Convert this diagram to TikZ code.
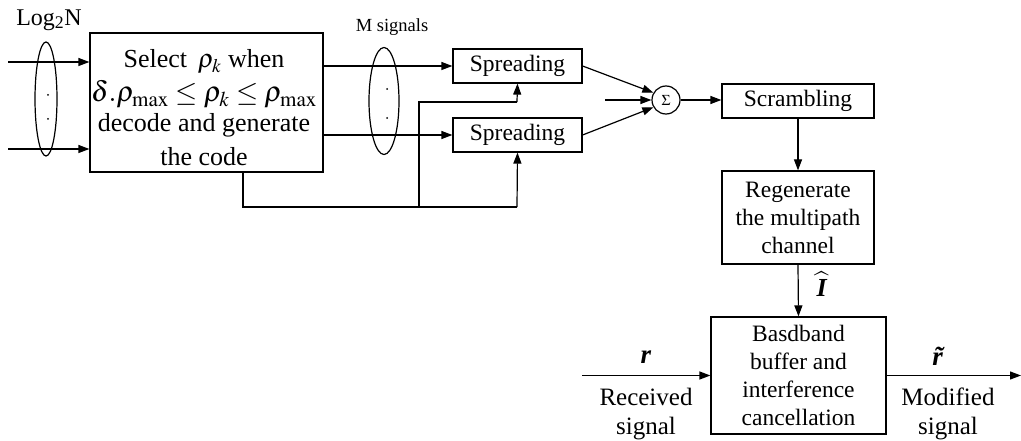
\documentclass[tikz,border=0pt]{standalone}
\usepackage{mathptmx}
\usepackage{amsmath}
\usepackage{fontspec}
\setmainfont{Liberation Serif}
\usetikzlibrary{arrows.meta,shapes.geometric}
\newcommand{\bi}[1]{\textbf{\textit{#1}}}
\begin{document}
\begin{tikzpicture}[x=1pt,y=-1pt,
  lw/.style={line width=1.2pt},
  blk/.style={draw,lw,inner sep=0pt,align=center,font=\fontsize{23.5}{28}\selectfont},
  arr/.style={lw,-{Triangle[length=11pt,width=8pt]}},
  ln/.style={lw},
  lbl/.style={inner sep=0pt,align=center,font=\fontsize{25}{29}\selectfont},
  oval/.style={draw,lw,ellipse,inner sep=0pt},
  dotn/.style={circle,fill,inner sep=0pt,minimum size=2pt}]
\useasboundingbox (0,0) rectangle (1021,441);
% blocks
\node[blk,minimum width=233pt,minimum height=139pt] (main) at (206.5,102.5) {};
\node[lbl,font=\fontsize{26}{30}\selectfont] (mt) at (204,108)
  {Select \,$\rho_k$ when\\[4pt]{\fontsize{28.5}{30}\selectfont$\delta.\rho_{\max}\le\rho_k\le\rho_{\max}$}\\[0pt]decode and generate\\[4pt]the code};
\node[blk,minimum width=129pt,minimum height=34pt] (spr1) at (517.5,66) {Spreading};
\node[blk,minimum width=129pt,minimum height=34pt] (spr2) at (517.5,135) {Spreading};
\node[draw,lw,circle,minimum size=28pt,inner sep=0pt,font=\fontsize{15}{15}\selectfont] (sum) at (666,100) {$\Sigma$};
\node[blk,minimum width=152pt,minimum height=34pt] (scr) at (798,101) {Scrambling};
\node[blk,minimum width=152pt,minimum height=93pt] (reg) at (798,217.5) {Regenerate\\the multipath\\channel};
\node[blk,minimum width=175pt,minimum height=117pt] (bb) at (798.5,375.5) {Basdband\\buffer and\\interference\\cancellation};
% left inputs
\coordinate (in1) at (8,62);
\coordinate (in2) at (8,149);
\draw[arr] (in1) -- (in1 -| main.west);
\draw[arr] (in2) -- (in2 -| main.west);
\node[oval,minimum width=22pt,minimum height=114pt] (ov1) at (46,99) {};
\node[dotn] (d1) at (48,95) {};
\node[dotn] (d2) at (48,119) {};
\node[lbl,font=\fontsize{24}{24}\selectfont] (log) at (49,20) {Log\textsubscript{2}N};
% outputs of main
\coordinate (o1) at (main.east |- spr1);
\coordinate (o2) at (main.east |- spr2);
\draw[arr] (o1) -- (spr1.west);
\draw[arr] (o2) -- (spr2.west);
\node[oval,minimum width=30pt,minimum height=107pt] (ov2) at (384,101) {};
\node[dotn] (d3) at (387,89) {};
\node[dotn] (d4) at (387,118) {};
\node[lbl,font=\fontsize{18.5}{18.5}\selectfont] (ms) at (392,27) {M signals};
% control lines
\coordinate (c0) at (243,207);
\coordinate (c1) at (419,207);
\coordinate (c2) at (419,102);
\coordinate (c3) at (517,102);
\coordinate (c4) at (517,207);
\draw[ln] (c0 |- main.south) -- (c0) -- (c4);
\draw[arr] (c4) -- (spr2.south);
\draw[ln] (c1) -- (c2) -- (c3);
\draw[arr] (c3) -- (spr1.south);
% summation
\draw[arr] (spr1.east) -- (sum.150);
\draw[arr] (spr2.east) -- (sum.210);
\coordinate (sin) at (605,100);
\draw[arr] (sin) -- (sum.west);
\draw[arr] (sum.east) -- (sum.east -| scr.west);
% right column
\draw[arr] (scr.south) -- (reg.north);
\draw[arr] (reg.south) -- (bb.north);
\node[lbl,font=\fontsize{26}{26}\selectfont] (ihat) at (822,284) {$\widehat{\text{\bi{I}}}$};
% received / modified
\coordinate (rin) at (582,375.5);
\draw[arr] (rin) -- (bb.west);
\node[lbl,font=\fontsize{27}{27}\selectfont] (rl) at (646,357) {\bi{r}};
\node[lbl] (rx) at (646,414) {Received\\signal};
\coordinate (rout) at (1021,375.5);
\draw[arr] (bb.east) -- (rout);
\node[lbl,font=\fontsize{27}{27}\selectfont] (rtl) at (943,356) {\bi{\~r}};
\node[lbl] (mx) at (948,414) {Modified\\signal};
\end{tikzpicture}
\end{document}
